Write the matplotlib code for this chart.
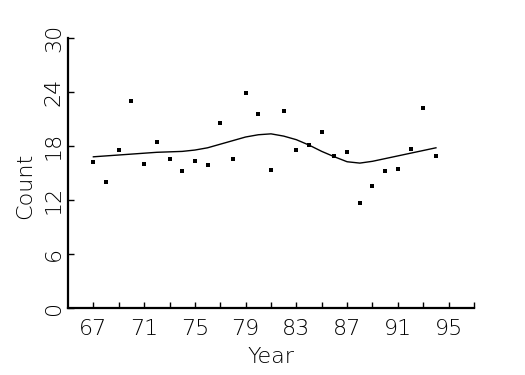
import numpy as np
import matplotlib
matplotlib.use("Agg")
import matplotlib.pyplot as plt
from matplotlib.ticker import FixedLocator

# values
years = [67, 68, 69, 70, 71, 72, 73, 74, 75, 76, 77, 78, 79, 80,
         81, 82, 83, 84, 85, 86, 87, 88, 89, 90, 91, 92, 93, 94]
counts = [16.2, 14.0, 17.6, 23.0, 16.0, 18.4, 16.6, 15.2, 16.3, 15.9, 20.6, 16.6, 23.9, 21.6,
          15.3, 21.9, 17.6, 18.1, 19.6, 16.9, 17.3, 11.7, 13.6, 15.2, 15.5, 17.7, 22.2, 16.9]
smooth = [16.8, 16.9, 17.0, 17.1, 17.2, 17.3, 17.35, 17.4, 17.55, 17.8, 18.2, 18.6, 19.0, 19.25,
          19.35, 19.1, 18.7, 18.1, 17.4, 16.8, 16.25, 16.1, 16.3, 16.6, 16.9, 17.2, 17.5, 17.8]

x_major = [67, 71, 75, 79, 83, 87, 91, 95]
x_minor = [69, 73, 77, 81, 85, 89, 93, 97]
y_ticks = [0, 6, 12, 18, 24, 30]

plt.rcParams['font.family'] = ['DejaVu Sans']
plt.rcParams['font.weight'] = 'light'

fig = plt.figure(figsize=(5.25, 3.75), dpi=100)
ax = fig.add_axes([68 / 525, 67 / 375, 406 / 525, 270 / 375])

ax.plot(years, smooth, color='black', lw=1.0)
ax.plot(years, counts, 's', color='black', ms=2.3, mew=0)

ax.set_xlim(65, 97)
ax.set_ylim(0, 30)
ax.xaxis.set_major_locator(FixedLocator(x_major))
ax.xaxis.set_minor_locator(FixedLocator(x_minor))
ax.set_yticks(y_ticks)

for s in ['top', 'right']:
    ax.spines[s].set_visible(False)
for s in ['left', 'bottom']:
    ax.spines[s].set_linewidth(1.6)

ax.tick_params(axis='both', which='both', direction='in', length=4, width=1,
               labelsize=16, color='black')
ax.tick_params(axis='x', pad=8)
ax.tick_params(axis='y', pad=3)
for lab in ax.get_yticklabels():
    lab.set_rotation(90)
    lab.set_va('center')

ax.set_xlabel('Year', fontsize=16, fontweight='light')
ax.set_ylabel('Count', fontsize=16, fontweight='light')
ax.xaxis.set_label_coords(0.5, -0.145)
ax.yaxis.set_label_coords(-0.082, 0.452)

fig.savefig('out.png', dpi=100)
